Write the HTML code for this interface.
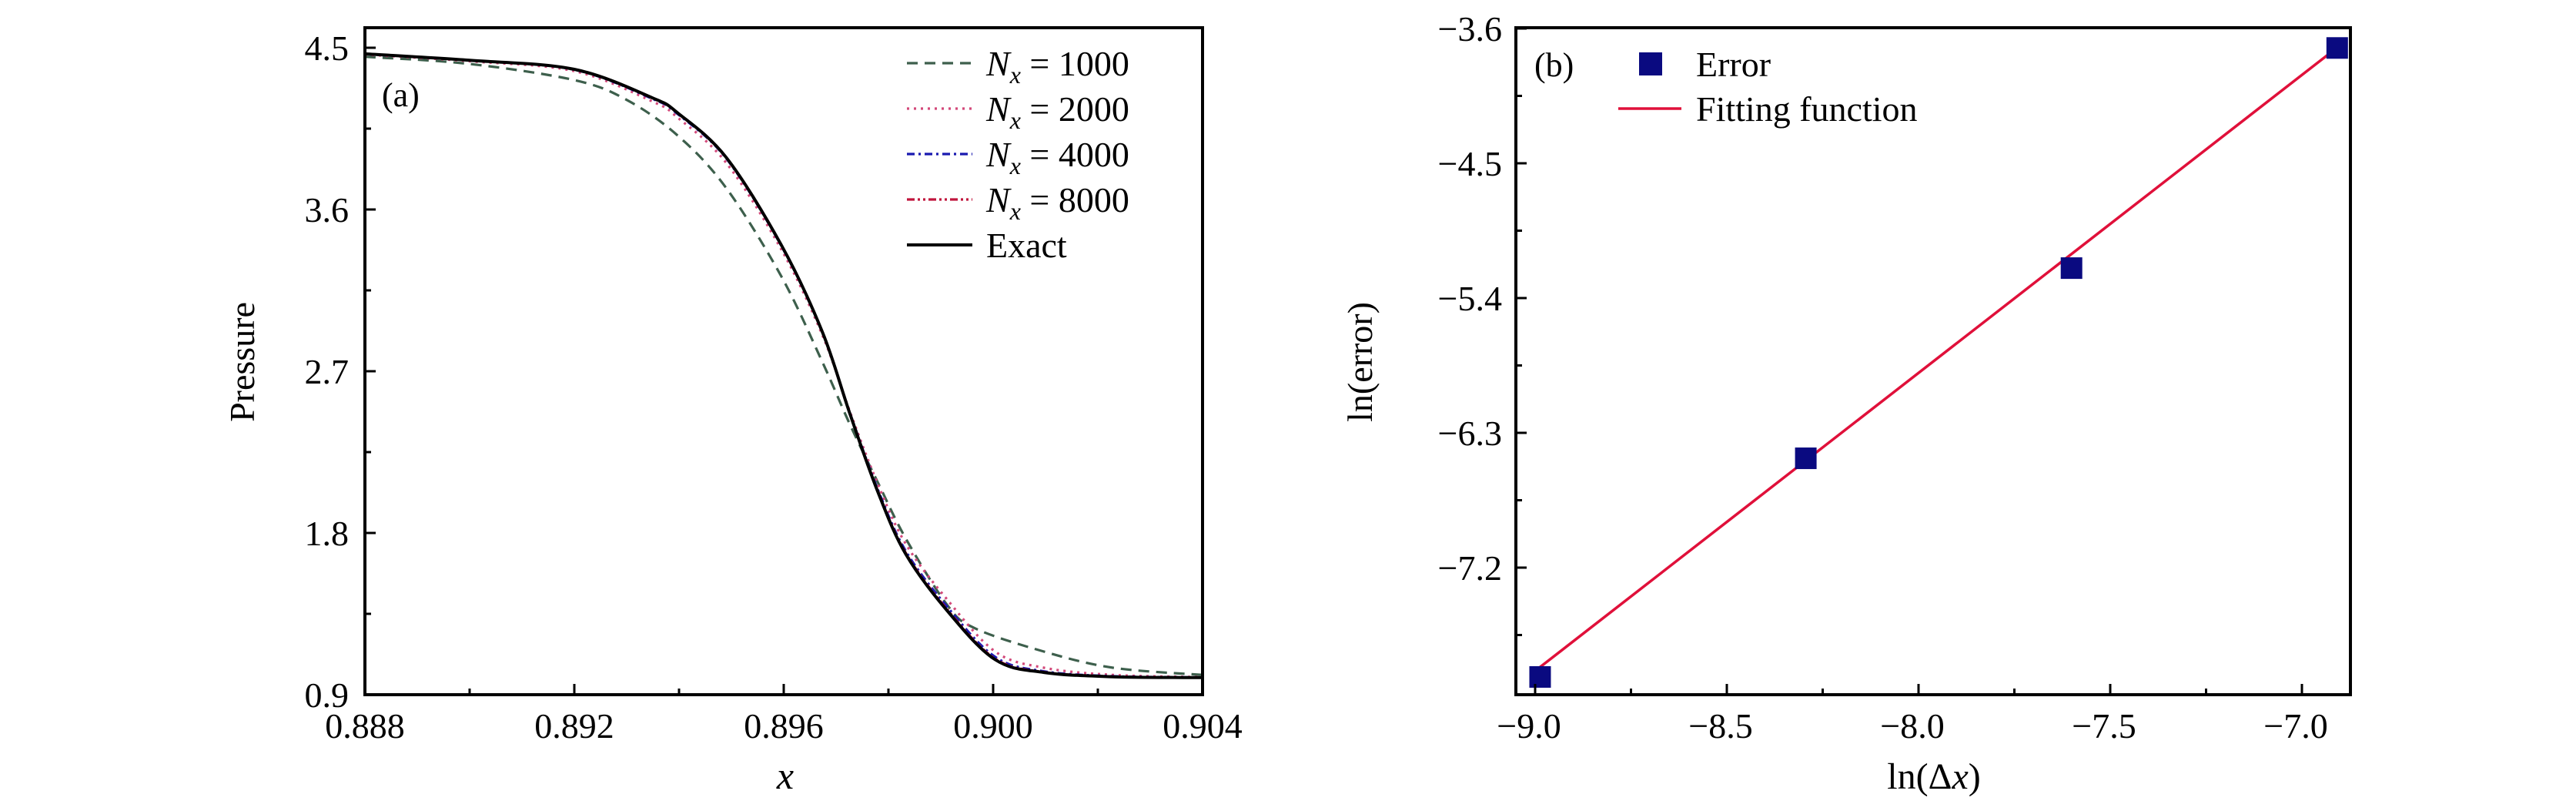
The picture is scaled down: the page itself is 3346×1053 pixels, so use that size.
<!DOCTYPE html>
<html><head><meta charset="utf-8">
<style>
html,body{margin:0;padding:0;background:#fff;}
svg{display:block;}
svg text{font-family:"Liberation Serif","DejaVu Serif",serif;fill:#000;}
</style></head>
<body>
<svg id="fig" width="3346" height="1053" viewBox="0 0 3346 1053" xmlns="http://www.w3.org/2000/svg" font-family="Liberation Serif, serif">
<g id="pa"></g>
<g id="pb"></g>
</svg>
<script>
// ---------- Panel (a) data ----------
const xTicksA = [0.888, 0.892, 0.896, 0.900, 0.904];
const xTickLabelsA = ["0.888", "0.892", "0.896", "0.900", "0.904"];
const yTicksA = [0.9, 1.8, 2.7, 3.6, 4.5];
const yTickLabelsA = ["0.9", "1.8", "2.7", "3.6", "4.5"];
const exactX = [0.888, 0.890, 0.892, 0.8935, 0.89398, 0.8949, 0.89595, 0.89674, 0.89727, 0.8978, 0.89833, 0.89912, 0.90004, 0.90097, 0.90229, 0.904];
const exactP = [4.466, 4.43, 4.38, 4.22, 4.136, 3.89, 3.404, 2.917, 2.458, 2.027, 1.683, 1.368, 1.095, 1.024, 1.0, 0.995];
const n1000X = [0.888, 0.890, 0.892, 0.893, 0.89398, 0.8949, 0.89595, 0.89674, 0.89727, 0.8978, 0.89833, 0.89912, 0.89965, 0.90097, 0.90229, 0.904];
const n1000P = [4.45, 4.41, 4.32, 4.21, 4.01, 3.72, 3.23, 2.75, 2.40, 2.08, 1.77, 1.40, 1.27, 1.14, 1.05, 1.01];
const n2000X = [0.888, 0.890, 0.892, 0.8935, 0.89398, 0.8949, 0.89595, 0.89674, 0.89727, 0.8978, 0.89833, 0.89912, 0.90004, 0.90097, 0.90229, 0.904];
const n2000P = [4.462, 4.425, 4.37, 4.20, 4.11, 3.86, 3.38, 2.90, 2.47, 2.07, 1.74, 1.43, 1.14, 1.05, 1.01, 0.998];
const n4000X = [0.888, 0.890, 0.892, 0.8935, 0.89398, 0.8949, 0.89595, 0.89674, 0.89727, 0.8978, 0.89833, 0.89912, 0.90004, 0.90097, 0.90229, 0.904];
const n4000P = [4.465, 4.43, 4.378, 4.215, 4.13, 3.885, 3.40, 2.915, 2.462, 2.04, 1.70, 1.39, 1.11, 1.03, 1.003, 0.996];
const n8000X = [0.888, 0.890, 0.892, 0.8935, 0.89398, 0.8949, 0.89595, 0.89674, 0.89727, 0.8978, 0.89833, 0.89912, 0.90004, 0.90097, 0.90229, 0.904];
const n8000P = [4.466, 4.43, 4.38, 4.218, 4.134, 3.888, 3.403, 2.917, 2.46, 2.032, 1.69, 1.375, 1.10, 1.026, 1.001, 0.995];

// ---------- Panel (b) data ----------
const xTicksB = [-9.0, -8.5, -8.0, -7.5, -7.0];
const xTickLabelsB = ["\u22129.0", "\u22128.5", "\u22128.0", "\u22127.5", "\u22127.0"];
const yTicksB = [-7.2, -6.3, -5.4, -4.5, -3.6];
const yTickLabelsB = ["\u22127.2", "\u22126.3", "\u22125.4", "\u22124.5", "\u22123.6"];
const lnDx = [-8.987, -8.294, -7.601, -6.908];
const lnErr = [-7.93, -6.47, -5.20, -3.73];
const fitCoef = [1.99, 10.02];
const fitRange = [-8.99, -6.92];

const NS = "http://www.w3.org/2000/svg";
function mk(parent, tag, attrs, txt) {
  const e = document.createElementNS(NS, tag);
  for (const k in attrs) e.setAttribute(k, attrs[k]);
  if (txt !== undefined) e.textContent = txt;
  parent.appendChild(e);
  return e;
}

// ---------- Panel (a) ----------
const A = {l:474, r:1562, t:36, b:902, x0:0.888, x1:0.904, y0:4.5, yPix0:62, yPix1:902, y1:0.9};
const ax = v => A.l + (v - A.x0) / (A.x1 - A.x0) * (A.r - A.l);
const ay = v => A.yPix1 - (v - A.y1) / (A.y0 - A.y1) * (A.yPix1 - A.yPix0);
const pa = document.getElementById('pa');

// smooth path (Catmull-Rom -> cubic Bezier)
function smoothPath(xs, ys, fx, fy) {
  const P = xs.map((x, i) => [fx(x), fy(ys[i])]);
  let d = 'M' + P[0][0].toFixed(1) + ' ' + P[0][1].toFixed(1);
  for (let i = 0; i < P.length - 1; i++) {
    const p0 = P[Math.max(0, i - 1)], p1 = P[i], p2 = P[i + 1], p3 = P[Math.min(P.length - 1, i + 2)];
    const c1 = [p1[0] + (p2[0] - p0[0]) / 6, p1[1] + (p2[1] - p0[1]) / 6];
    const c2 = [p2[0] - (p3[0] - p1[0]) / 6, p2[1] - (p3[1] - p1[1]) / 6];
    d += ' C' + c1[0].toFixed(1) + ' ' + c1[1].toFixed(1) + ' ' + c2[0].toFixed(1) + ' ' + c2[1].toFixed(1) + ' ' + p2[0].toFixed(1) + ' ' + p2[1].toFixed(1);
  }
  return d;
}
const seriesA = [
  {xs:n1000X, ys:n1000P, c:'#3d5f4c', d:'14 9', w:3.2, name:'series-nx-1000'},
  {xs:n2000X, ys:n2000P, c:'#d3497a', d:'3 6', w:3.2, name:'series-nx-2000'},
  {xs:n4000X, ys:n4000P, c:'#1a1ab0', d:'10 5 3 5', w:3.2, name:'series-nx-4000'},
  {xs:n8000X, ys:n8000P, c:'#c0143c', d:'10 4 3 4 3 4', w:3.2, name:'series-nx-8000'},
  {xs:exactX, ys:exactP, c:'#000', d:'', w:4, name:'series-exact'}
];
seriesA.forEach(s => {
  const p = mk(pa, 'path', {d: smoothPath(s.xs, s.ys, ax, ay), fill:'none', stroke:s.c, 'stroke-width':s.w, 'stroke-dasharray':s.d, 'stroke-linejoin':'round'});
  
  
});
let fr = mk(pa, 'rect', {x:A.l, y:A.t, width:A.r-A.l, height:A.b-A.t, fill:'none', stroke:'#000', 'stroke-width':4});


xTicksA.forEach((v, i) => {
  const x = ax(v);
  mk(pa, 'line', {x1:x, x2:x, y1:A.b, y2:A.b-14, stroke:'#000', 'stroke-width':3});
  const t = mk(pa, 'text', {x:x, y:958, 'font-size':46, 'text-anchor':'middle'}, xTickLabelsA[i]);
  
  
  if (i < xTicksA.length - 1) {
    const xm = ax(v + 0.002);
    mk(pa, 'line', {x1:xm, x2:xm, y1:A.b, y2:A.b-8, stroke:'#000', 'stroke-width':3});
  }
});
yTicksA.forEach((v, i) => {
  const y = ay(v);
  mk(pa, 'line', {x1:A.l, x2:A.l+14, y1:y, y2:y, stroke:'#000', 'stroke-width':3});
  const t = mk(pa, 'text', {x:453, y:y+16, 'font-size':46, 'text-anchor':'end'}, yTickLabelsA[i]);
  
  
  if (i < yTicksA.length - 1) {
    const ym = ay(v + 0.45);
    mk(pa, 'line', {x1:A.l, x2:A.l+8, y1:ym, y2:ym, stroke:'#000', 'stroke-width':3});
  }
});
let tt = mk(pa, 'text', {x:0, y:0, 'font-size':46, 'text-anchor':'middle', transform:'translate(330 470) rotate(-90)'}, 'Pressure');


tt = mk(pa, 'text', {x:1020, y:1024, 'font-size':50, 'font-style':'italic', 'text-anchor':'middle'}, 'x');


tt = mk(pa, 'text', {x:496, y:138, 'font-size':44}, '(a)');


const legY = [82, 141, 200, 259, 318];
const legLabels = ['1000', '2000', '4000', '8000'];
seriesA.forEach((s, i) => {
  const g = mk(pa, 'g', {});
  
  
  mk(g, 'line', {x1:1178, x2:1263, y1:legY[i], y2:legY[i], stroke:s.c, 'stroke-width':s.w, 'stroke-dasharray':s.d});
  if (i < 4) {
    const t = mk(g, 'text', {x:1281, y:legY[i]+16, 'font-size':46});
    mk(t, 'tspan', {'font-style':'italic'}, 'N');
    mk(t, 'tspan', {'font-style':'italic', 'font-size':32, dy:10}, 'x');
    mk(t, 'tspan', {dy:-10}, ' = ' + legLabels[i]);
  } else {
    mk(g, 'text', {x:1281, y:legY[i]+16, 'font-size':46}, 'Exact');
  }
});

// ---------- Panel (b) ----------
const B = {l:1969, r:3053, t:36, b:902};
const bx = v => 1994 + (v + 9.0) / 0.5 * 249;
const by = v => 37 + (-3.6 - v) / 0.9 * 175;
const pb = document.getElementById('pb');
let fl = mk(pb, 'line', {x1:bx(fitRange[0]), y1:by(fitCoef[0]*fitRange[0]+fitCoef[1]), x2:bx(fitRange[1]), y2:by(fitCoef[0]*fitRange[1]+fitCoef[1]), stroke:'#e0103a', 'stroke-width':3.5});


lnDx.forEach((v, i) => {
  const m = mk(pb, 'rect', {x:bx(v)-14, y:by(lnErr[i])-14, width:28, height:28, fill:'#0a0a80'});
  
  
});
fr = mk(pb, 'rect', {x:B.l, y:B.t, width:B.r-B.l, height:B.b-B.t, fill:'none', stroke:'#000', 'stroke-width':4});


xTicksB.forEach((v, i) => {
  const x = bx(v);
  mk(pb, 'line', {x1:x, x2:x, y1:B.b, y2:B.b-14, stroke:'#000', 'stroke-width':3});
  const t = mk(pb, 'text', {x:x-8, y:958, 'font-size':46, 'text-anchor':'middle'}, xTickLabelsB[i]);
  
  
  const xm = bx(v + 0.25);
  if (xm < B.r) mk(pb, 'line', {x1:xm, x2:xm, y1:B.b, y2:B.b-8, stroke:'#000', 'stroke-width':3});
});
yTicksB.forEach((v, i) => {
  const y = by(v);
  mk(pb, 'line', {x1:B.l, x2:B.l+14, y1:y, y2:y, stroke:'#000', 'stroke-width':3});
  const t = mk(pb, 'text', {x:1951, y:y+16, 'font-size':46, 'text-anchor':'end'}, yTickLabelsB[i]);
  
  
  const ym = by(v - 0.45);
  if (ym < B.b) mk(pb, 'line', {x1:B.l, x2:B.l+8, y1:ym, y2:ym, stroke:'#000', 'stroke-width':3});
});
tt = mk(pb, 'text', {x:0, y:0, 'font-size':46, 'text-anchor':'middle', transform:'translate(1782 470) rotate(-90)'}, 'ln(error)');


tt = mk(pb, 'text', {x:2512, y:1024, 'font-size':48, 'text-anchor':'middle'});
mk(tt, 'tspan', {}, 'ln(\u0394');
mk(tt, 'tspan', {'font-style':'italic'}, 'x');
mk(tt, 'tspan', {}, ')');


tt = mk(pb, 'text', {x:1993, y:99, 'font-size':44}, '(b)');


let lg = mk(pb, 'g', {});


mk(lg, 'rect', {x:2129, y:68, width:30, height:30, fill:'#0a0a80'});
mk(lg, 'text', {x:2203, y:99, 'font-size':46}, 'Error');
lg = mk(pb, 'g', {});


mk(lg, 'line', {x1:2102, x2:2184, y1:141, y2:141, stroke:'#e0103a', 'stroke-width':3.5});
mk(lg, 'text', {x:2203, y:157, 'font-size':46}, 'Fitting function');
</script>
</body></html>
